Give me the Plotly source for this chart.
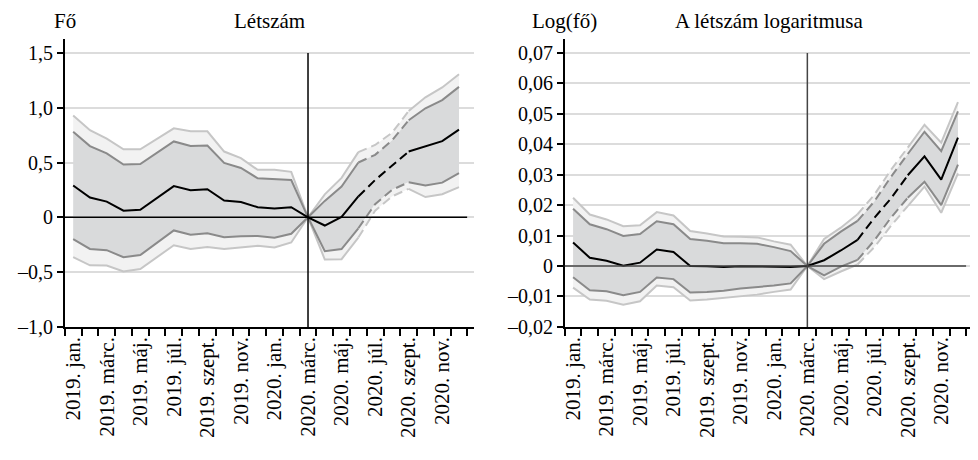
import plotly.graph_objects as go
from plotly.subplots import make_subplots

# months, 2019 jan - 2020 dec
months = ["jan.", "febr.", "márc.", "ápr.", "máj.", "jún.",
          "júl.", "aug.", "szept.", "okt.", "nov.", "dec."]
categories = [f"{y}. {m}" for y in (2019, 2020) for m in months]
tick_text = [c if i % 2 == 0 else "" for i, c in enumerate(categories)]
event_month = "2020. márc."

# left panel: Létszám (fő)
left_mid = [0.29, 0.18, 0.143, 0.06, 0.068, 0.178, 0.285, 0.247, 0.256, 0.153, 0.14, 0.092,
            0.08, 0.092, 0.0, -0.075, 0.003, 0.19, 0.34, 0.47, 0.60, 0.648, 0.695, 0.80]
left_up_in = [0.78, 0.65, 0.584, 0.482, 0.486, 0.587, 0.692, 0.65, 0.655, 0.497, 0.45, 0.356,
              0.35, 0.34, 0.0, 0.15, 0.28, 0.50, 0.57, 0.70, 0.885, 0.995, 1.07, 1.19]
left_up_out = [0.93, 0.795, 0.718, 0.62, 0.62, 0.714, 0.812, 0.785, 0.785, 0.60, 0.54, 0.433,
               0.433, 0.415, 0.0, 0.21, 0.36, 0.595, 0.66, 0.77, 0.97, 1.095, 1.185, 1.305]
left_lo_in = [-0.20, -0.289, -0.30, -0.364, -0.345, -0.231, -0.12, -0.159, -0.145, -0.182, -0.172, -0.17,
              -0.187, -0.15, 0.0, -0.31, -0.29, -0.10, 0.12, 0.25, 0.32, 0.29, 0.316, 0.403]
left_lo_out = [-0.363, -0.438, -0.44, -0.495, -0.472, -0.364, -0.255, -0.289, -0.272, -0.289, -0.276, -0.26,
               -0.276, -0.23, 0.0, -0.385, -0.382, -0.185, 0.06, 0.19, 0.26, 0.185, 0.211, 0.275]
left_ticks = [-1.0, -0.5, 0, 0.5, 1.0, 1.5]
left_ticktext = ["–1,0", "–0,5", "0", "0,5", "1,0", "1,5"]

# right panel: A létszám logaritmusa
right_mid = [0.0077, 0.0027, 0.0017, 0.0001, 0.0011, 0.0054, 0.0046, 0.0, -0.0001, -0.0003, -0.0001, -0.0001,
             -0.0001, -0.0003, 0.0, 0.0019, 0.0051, 0.0086, 0.0158, 0.0222, 0.0298, 0.036, 0.0284, 0.0422]
right_up_in = [0.0188, 0.0137, 0.0121, 0.0099, 0.0105, 0.0147, 0.0137, 0.0089, 0.0083, 0.0075, 0.0075, 0.0073,
               0.0062, 0.0049, 0.0, 0.0073, 0.0113, 0.0148, 0.0212, 0.0293, 0.0368, 0.0441, 0.0377, 0.0508]
right_up_out = [0.0224, 0.0169, 0.0153, 0.0131, 0.0134, 0.0177, 0.0166, 0.0115, 0.0107, 0.0097, 0.0096, 0.0094,
                0.0081, 0.007, 0.0, 0.0089, 0.0126, 0.0170, 0.0234, 0.0316, 0.0389, 0.0464, 0.0405, 0.0538]
right_lo_in = [-0.0037, -0.008, -0.0083, -0.0096, -0.0085, -0.0038, -0.0043, -0.0087, -0.0085, -0.0081, -0.0074, -0.007,
               -0.0064, -0.0057, 0.0, -0.0031, -0.0002, 0.002, 0.0084, 0.0159, 0.0224, 0.0277, 0.0200, 0.0333]
right_lo_out = [-0.0071, -0.011, -0.0114, -0.0127, -0.0116, -0.0064, -0.007, -0.0113, -0.011, -0.0104, -0.0098, -0.0094,
                -0.0085, -0.0077, 0.0, -0.0043, -0.0018, 0.0005, 0.0062, 0.0132, 0.0197, 0.0261, 0.0175, 0.0304]
right_ticks = [-0.02, -0.01, 0, 0.01, 0.02, 0.03, 0.04, 0.05, 0.06, 0.07]
right_ticktext = ["–0,02", "–0,01", "0", "0,01", "0,02", "0,03", "0,04", "0,05", "0,06", "0,07"]

# months drawn dashed (2020 jún - szept)
dash_from, dash_to = 17, 20

FONT = "Liberation Serif"
FILL_IN = "#d9dadb"
FILL_OUT = "#f2f2f2"
LINE_IN = "#8a8a8a"
LINE_OUT = "#c6c6c6"

# the page body keeps an 8px margin, so the figure is made to fit inside the window
OFF = 8
W, H = 978 - OFF, 460 - 2 * OFF


def split(vals):
    solid = [v if (i <= dash_from or i >= dash_to) else None for i, v in enumerate(vals)]
    dashed = [v if dash_from <= i <= dash_to else None for i, v in enumerate(vals)]
    return solid, dashed


def add_panel(fig, col, mid, up_in, up_out, lo_in, lo_out):
    # filled bands
    fig.add_trace(go.Scatter(x=categories, y=up_out, mode="lines", line=dict(width=0),
                             hoverinfo="skip"), row=1, col=col)
    fig.add_trace(go.Scatter(x=categories, y=up_in, mode="lines", line=dict(width=0),
                             fill="tonexty", fillcolor=FILL_OUT, hoverinfo="skip"), row=1, col=col)
    fig.add_trace(go.Scatter(x=categories, y=lo_in, mode="lines", line=dict(width=0),
                             fill="tonexty", fillcolor=FILL_IN, hoverinfo="skip"), row=1, col=col)
    fig.add_trace(go.Scatter(x=categories, y=lo_out, mode="lines", line=dict(width=0),
                             fill="tonexty", fillcolor=FILL_OUT, hoverinfo="skip"), row=1, col=col)
    # lines, solid and dashed parts
    for vals, color in [(up_out, LINE_OUT), (lo_out, LINE_OUT), (up_in, LINE_IN),
                        (lo_in, LINE_IN), (mid, "black")]:
        solid, dashed = split(vals)
        fig.add_trace(go.Scatter(x=categories, y=solid, mode="lines",
                                 line=dict(color=color, width=2)), row=1, col=col)
        fig.add_trace(go.Scatter(x=categories, y=dashed, mode="lines",
                                 line=dict(color=color, width=2, dash="9px,5px")), row=1, col=col)


fig = make_subplots(rows=1, cols=2)
add_panel(fig, 1, left_mid, left_up_in, left_up_out, left_lo_in, left_lo_out)
add_panel(fig, 2, right_mid, right_up_in, right_up_out, right_lo_in, right_lo_out)

# pixel positions of the plot areas in the window
xdom = [[(61 - OFF) / W, (472 - OFF) / W], [(563 - OFF) / W, (973 - OFF) / W]]
ydom = [1 - (335 - OFF) / H, 1 - (40 - OFF) / H]

xaxis_style = dict(type="category", tickson="boundaries", tickmode="array",
                   tickvals=categories, ticktext=tick_text, tickangle=-90,
                   range=[-0.5, 23.9], showgrid=False, zeroline=False,
                   showline=True, linecolor="black", linewidth=1.5,
                   ticks="outside", ticklen=7, tickcolor="black", tickwidth=1.5,
                   tickfont=dict(family=FONT, size=21, color="black"))
yaxis_style = dict(showline=True, linecolor="black", linewidth=1.5, ticks="outside",
                   ticklen=6, tickcolor="black", tickwidth=1.5, showgrid=True,
                   gridcolor="#dcdcdc", gridwidth=1.5, zeroline=False,
                   tickfont=dict(family=FONT, size=20, color="black"))

fig.update_xaxes(xaxis_style)
fig.update_yaxes(yaxis_style)
fig.update_xaxes(domain=xdom[0], row=1, col=1)
fig.update_xaxes(domain=xdom[1], row=1, col=2)
fig.update_yaxes(domain=ydom, range=[-1.0, 1.625], tickvals=left_ticks,
                 ticktext=left_ticktext, row=1, col=1)
fig.update_yaxes(domain=ydom, range=[-0.02, 0.0745], tickvals=right_ticks,
                 ticktext=right_ticktext, row=1, col=2)

# zero lines and the vertical marker at 2020 márc.
for xr, yr, ticks, zcolor in [("x", "y", left_ticks, "black"),
                              ("x2", "y2", right_ticks, "#444444")]:
    fig.add_shape(type="line", xref=xr + " domain", yref=yr, x0=0, x1=0.983, y0=0, y1=0,
                  line=dict(color=zcolor, width=1.5), layer="above")
    fig.add_shape(type="line", xref=xr, yref=yr, x0=event_month, x1=event_month,
                  y0=ticks[0], y1=ticks[-1], line=dict(color=zcolor, width=1.5), layer="above")

titles = [("Fő", xdom[0][0]), ("Létszám", sum(xdom[0]) / 2),
          ("Log(fő)", xdom[1][0]), ("A létszám logaritmusa", sum(xdom[1]) / 2)]
for text, xpos in titles:
    fig.add_annotation(text=text, x=xpos, y=1 - 13 / H, xref="paper", yref="paper",
                       xanchor="center", yanchor="middle", showarrow=False,
                       font=dict(family=FONT, size=21, color="black"))

fig.update_layout(width=W, height=H, showlegend=False,
                  plot_bgcolor="white", paper_bgcolor="white",
                  margin=dict(l=0, r=0, t=0, b=0))

fig.write_html("out.html")
